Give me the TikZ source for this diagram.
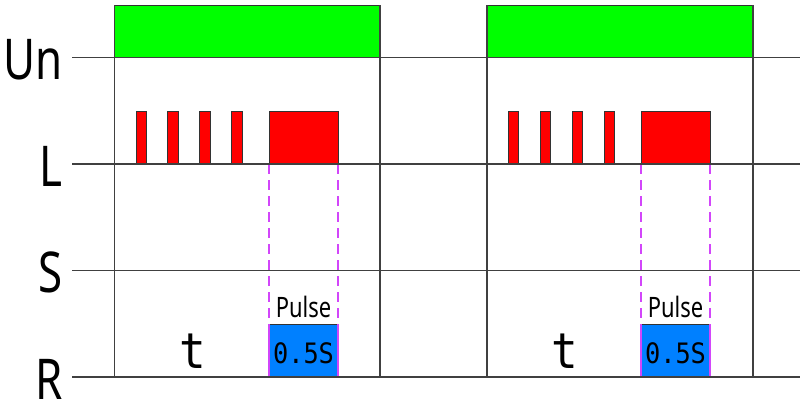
\documentclass[tikz,border=0pt]{standalone}
\usepackage{fontspec}
\newfontfamily\labelfont{Noto Sans}[FakeStretch=0.78]
\newfontfamily\digitfont{DejaVu Sans Mono}[FakeStretch=0.9]
\definecolor{supplygreen}{RGB}{0,255,0}
\definecolor{lampred}{RGB}{255,0,0}
\definecolor{relayblue}{RGB}{0,128,255}
\definecolor{pulseviolet}{RGB}{210,70,250}

\begin{document}
\begin{tikzpicture}[x=0.025cm, y=-0.025cm,
	gridline/.style={line width=0.9pt, color=black!75},
	pulsebox/.style={line width=0.6pt, draw=black!80},
	guide/.style={line width=0.9pt, color=pulseviolet, dash pattern=on 0.25cm off 0.15cm},
	siglabel/.style={font=\labelfont\fontsize{40}{40}\selectfont, inner sep=0pt, anchor=base east},
	smalltext/.style={font=\labelfont\fontsize{20}{20}\selectfont, inner sep=0pt, anchor=base},
	valuetext/.style={font=\digitfont\fontsize{20}{20}\selectfont, inner sep=0pt, anchor=base},
	timetext/.style={font=\digitfont\fontsize{35}{35}\selectfont, inner sep=0pt, anchor=base}]
		%%%%% START %%%%%
		
		\useasboundingbox (0, 0) rectangle (800, 403);
		
		% supply voltage
		\draw[pulsebox, fill=supplygreen] (114.5, 5) rectangle (380, 57.5);
		\draw[pulsebox, fill=supplygreen] (487, 5) rectangle (753, 57.5);
		
		% lamp / switch presses, first cycle
		\draw[pulsebox, fill=lampred] (136, 111) rectangle (146, 164);
		\draw[pulsebox, fill=lampred] (167.5, 111) rectangle (178, 164);
		\draw[pulsebox, fill=lampred] (199.5, 111) rectangle (210, 164);
		\draw[pulsebox, fill=lampred] (231, 111) rectangle (242, 164);
		\draw[pulsebox, fill=lampred] (269, 111) rectangle (338, 164);
		
		% lamp / switch presses, second cycle
		\draw[pulsebox, fill=lampred] (508, 111) rectangle (518.5, 164);
		\draw[pulsebox, fill=lampred] (540, 111) rectangle (550.5, 164);
		\draw[pulsebox, fill=lampred] (572, 111) rectangle (582.5, 164);
		\draw[pulsebox, fill=lampred] (604, 111) rectangle (614.5, 164);
		\draw[pulsebox, fill=lampred] (641, 111) rectangle (710, 164);
		
		% relay output
		\draw[pulsebox, fill=relayblue] (269, 324) rectangle (338, 377);
		\draw[pulsebox, fill=relayblue] (641, 324) rectangle (710, 377);
		
		\draw[guide] (269, 164) -- (269, 324);
		\draw[guide] (338, 164) -- (338, 324);
		\draw[guide] (641, 164) -- (641, 324);
		\draw[guide] (710, 164) -- (710, 324);
		\draw[line width=0.9pt, color=pulseviolet] (269, 324) -- (269, 377);
		\draw[line width=0.9pt, color=pulseviolet] (338, 324) -- (338, 377);
		\draw[line width=0.9pt, color=pulseviolet] (641, 324) -- (641, 377);
		\draw[line width=0.9pt, color=pulseviolet] (710, 324) -- (710, 377);
		
		% grid
		\draw[gridline] (72, 57.5) -- (800, 57.5);
		\draw[gridline] (72, 164) -- (800, 164);
		\draw[gridline] (72, 270.5) -- (800, 270.5);
		\draw[gridline] (72, 377) -- (800, 377);
		
		\draw[gridline] (114.5, 5) -- (114.5, 377);
		\draw[gridline] (380, 5) -- (380, 377);
		\draw[gridline] (487, 5) -- (487, 377);
		\draw[gridline] (753, 5) -- (753, 377);
		
		% signal names
		\node[siglabel] (un) at (63, 79) {Un};
		\node[siglabel] (lamp) at (63, 186) {L};
		\node[siglabel] (switch) at (63, 292.5) {S};
		\node[siglabel] (relay) at (63, 399) {R};
		
		% texts
		\node[timetext] (timeA) at (193, 368) {t};
		\node[timetext] (timeB) at (565, 368) {t};
		\node[smalltext] (pulseA) at (303.5, 317) {Pulse};
		\node[smalltext] (pulseB) at (675.5, 317) {Pulse};
		\node[valuetext] (lengthA) at (303.5, 363) {0.5S};
		\node[valuetext] (lengthB) at (675.5, 363) {0.5S};
		
		%%%%% END %%%%%
\end{tikzpicture}
\end{document}
